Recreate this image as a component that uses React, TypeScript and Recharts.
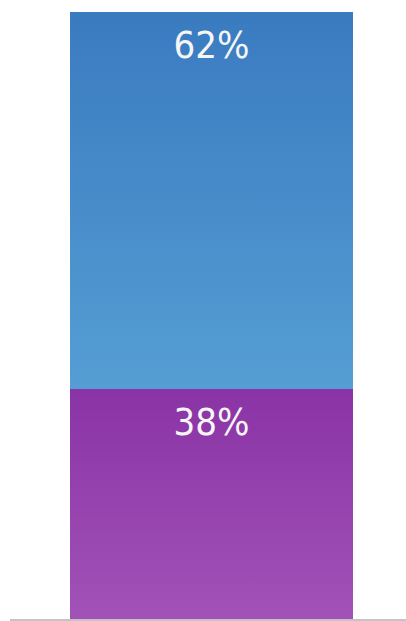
import { BarChart, Bar, XAxis, YAxis, LabelList } from 'recharts'

const categories = ['Total']
const topShare = [62]
const bottomShare = [38]

const data = categories.map((name, i) => ({
  name,
  bottom: bottomShare[i],
  top: topShare[i],
}))

function PctLabel(props: any) {
  const { x, y, width, value } = props
  return (
    <text
      x={x + width / 2}
      y={y + 46}
      textAnchor="middle"
      fill="#f6f6f6"
      fontSize={38}
      fontFamily="'DejaVu Sans Condensed', 'DejaVu Sans', sans-serif"
    >
      {value}%
    </text>
  )
}

export default function App() {
  return (
    <div style={{ position: 'absolute', left: 0, top: 0, background: '#fff' }}>
      <BarChart
        width={406}
        height={621}
        data={data}
        margin={{ top: 12, right: 0, bottom: 0, left: 10 }}
        barCategoryGap={0}
      >
        <defs>
          <linearGradient id="blueFill" x1="0" y1="0" x2="0" y2="1">
            <stop offset="0%" stopColor="#3a7bc0" />
            <stop offset="100%" stopColor="#559ed4" />
          </linearGradient>
          <linearGradient id="purpleFill" x1="0" y1="0" x2="0" y2="1">
            <stop offset="0%" stopColor="#8a33a6" />
            <stop offset="100%" stopColor="#a252b7" />
          </linearGradient>
        </defs>
        <XAxis
          dataKey="name"
          tick={false}
          tickLine={false}
          height={1}
          padding={{ left: 60, right: 53 }}
          axisLine={{ stroke: '#c4c4c4', strokeWidth: 2 }}
        />
        <YAxis hide domain={[0, 100]} />
        <Bar dataKey="bottom" stackId="a" fill="url(#purpleFill)" isAnimationActive={false}>
          <LabelList dataKey="bottom" content={PctLabel} />
        </Bar>
        <Bar dataKey="top" stackId="a" fill="url(#blueFill)" isAnimationActive={false}>
          <LabelList dataKey="top" content={PctLabel} />
        </Bar>
      </BarChart>
    </div>
  )
}
